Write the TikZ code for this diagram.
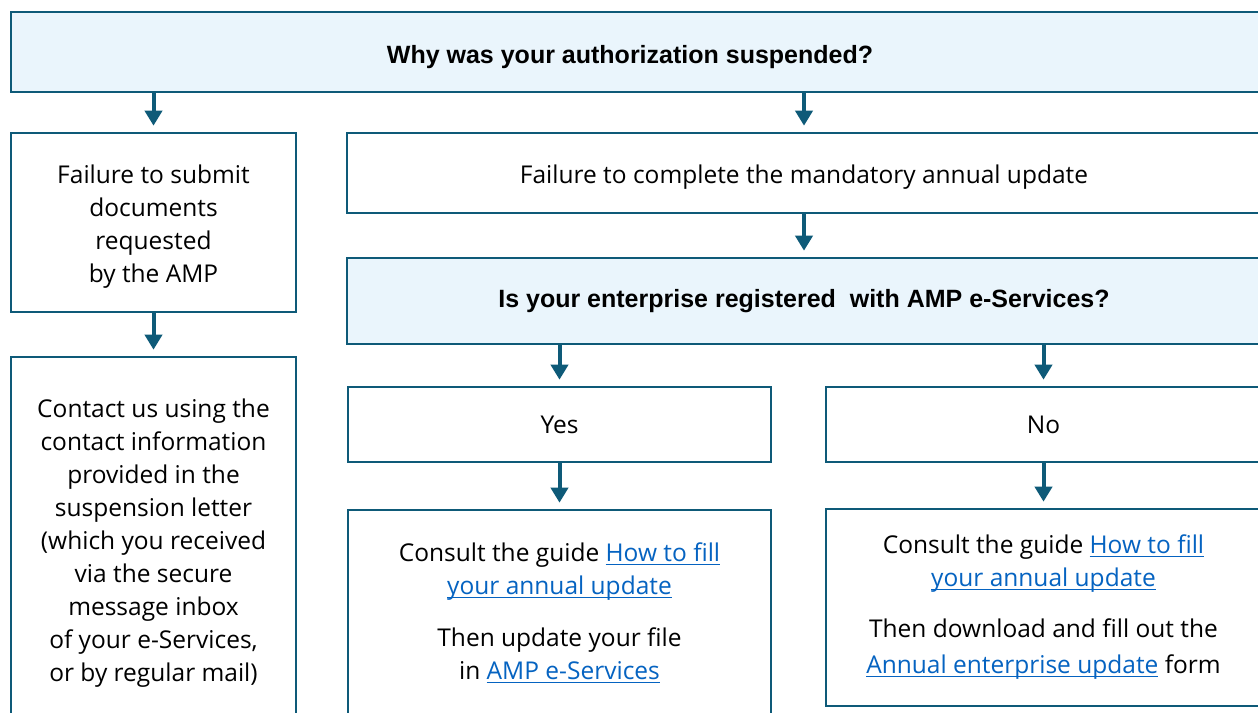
\documentclass[tikz,border=0pt]{standalone}
\usepackage{fontspec}
\setmainfont{Open Sans}
\newfontfamily\titlefont{Liberation Sans}
\usetikzlibrary{arrows.meta}
\definecolor{edgeblue}{RGB}{14,90,120}
\definecolor{qfill}{RGB}{234,245,252}
\definecolor{linkblue}{RGB}{5,99,193}
\newcommand{\lnk}[1]{\textcolor{linkblue}{\setbox0\hbox{#1}\rlap{\rule[-3.5pt]{\wd0}{1.3pt}}\box0}}
\newcommand{\nudge}[2]{\raisebox{#1}[\height][\depth]{#2}}
\tikzset{
  box/.style={draw=edgeblue, line width=2.6pt, fill=white, align=center, inner sep=0pt,
    font=\fontsize{24.5}{33}\selectfont, text=black},
  qbox/.style={box, fill=qfill, font=\titlefont\bfseries\fontsize{25}{30}\selectfont},
  flow/.style={draw=edgeblue, line width=4pt, -{Triangle[width=17pt,length=15pt]}, shorten >=6pt},
}
\begin{document}
\begin{tikzpicture}[x=1pt,y=-1pt]
\useasboundingbox (0,0) rectangle (1258,712);
\clip (0,0) rectangle (1258,712);
\node[qbox, minimum width=1250pt, minimum height=80pt, text depth=0pt] (q1) at (636,52) {\raisebox{-4pt}{\hspace*{-12pt}Why was your authorization suspended?}};
\node[box, minimum width=285pt, minimum height=179pt] (a) at (153.5,222.5) {\nudge{-4pt}{\begin{tabular}{@{}c@{}}Failure to submit\\documents\\requested\\by the AMP\end{tabular}}};
\node[box, minimum width=914pt, minimum height=80pt] (b) at (804,173) {\nudge{-4pt}{Failure to complete the mandatory annual update}};
\node[qbox, minimum width=914pt, minimum height=86pt] (q2) at (804,301) {Is your enterprise registered\ \ with AMP e-Services?};
\node[box, minimum width=285pt, minimum height=363pt] (c) at (153.5,538.5) {\nudge{-4pt}{\begin{tabular}{@{}c@{}}Contact us using the\\contact information\\provided in the\\suspension letter\\(which you received\\via the secure\\message inbox\\of your e-Services,\\or by regular mail)\end{tabular}}};
\node[box, minimum width=423pt, minimum height=75pt] (yes) at (559.5,424.5) {Yes};
\node[box, minimum width=435pt, minimum height=75pt] (no) at (1043.5,424.5) {No};
\node[box, minimum width=423pt, minimum height=206pt] (yb) at (559.5,613) {Consult the guide \lnk{How to fill}\\\lnk{your annual update}\\[19pt]Then update your file\\in \lnk{AMP e-Services}};
\node[box, minimum width=435pt, minimum height=197pt] (nb) at (1043.5,607.5) {Consult the guide \lnk{How to fill}\\\lnk{your annual update}\\[18pt]Then download and fill out the\\[3pt]\lnk{Annual enterprise update} form};
\draw[flow] (q1.south -| a.north) -- (a.north);
\draw[flow] (q1.south -| b.north) -- (b.north);
\draw[flow] (a.south) -- (c.north);
\draw[flow] (b.south) -- (q2.north);
\draw[flow] (q2.south -| yes.north) -- (yes.north);
\draw[flow] (q2.south -| no.north) -- (no.north);
\draw[flow] (yes.south) -- (yb.north);
\draw[flow] (no.south) -- (nb.north);
\end{tikzpicture}
\end{document}
